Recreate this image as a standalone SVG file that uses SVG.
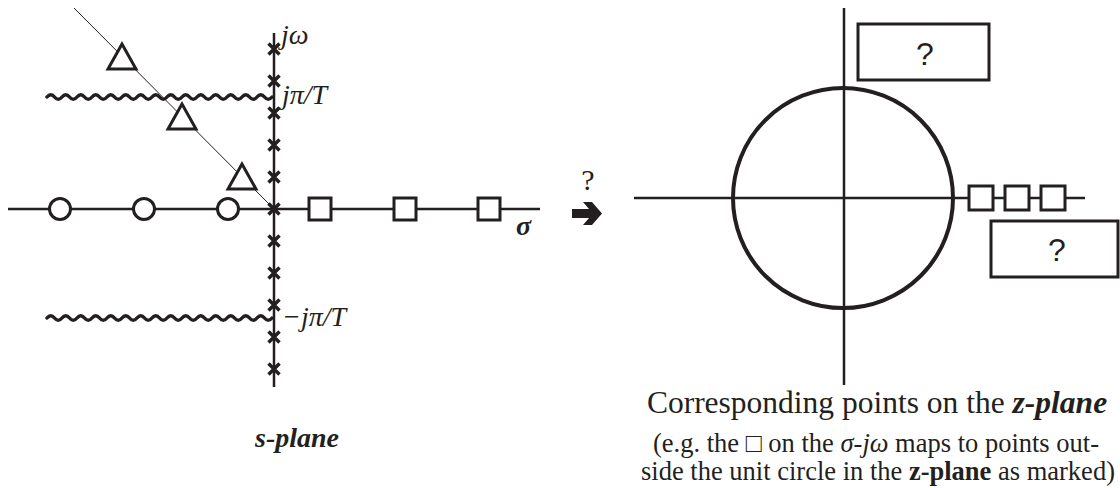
<svg xmlns="http://www.w3.org/2000/svg" width="1120" height="488" viewBox="0 0 1120 488">
<style>
.ax{stroke:#231f20;stroke-width:2.5;fill:none}
.thin{stroke:#231f20;stroke-width:1;fill:none}
.mk{stroke:#231f20;stroke-width:3;fill:#fff}
.xm{stroke:#231f20;stroke-width:3.5;fill:none}
.wave{stroke:#231f20;stroke-width:3.5;fill:none;stroke-linecap:round}
.lab{font-family:"Liberation Serif","Times New Roman",serif;font-style:italic;font-size:28px;fill:#231f20}
.q{font-family:"Liberation Sans",Arial,sans-serif;font-size:32px;fill:#231f20;text-anchor:middle}
</style>
<rect width="1120" height="488" fill="#fff"/>
<g id="connectors">
  <line class="ax" x1="8" y1="209" x2="540" y2="209"/>
  <line class="ax" x1="274" y1="33" x2="274" y2="387"/>
  <line class="thin" x1="74" y1="8" x2="274" y2="209"/>
  <path class="wave" d="M47,97 q3.75,-4.5 7.5,0 t7.5,0 t7.5,0 t7.5,0 t7.5,0 t7.5,0 t7.5,0 t7.5,0 t7.5,0 t7.5,0 t7.5,0 t7.5,0 t7.5,0 t7.5,0 t7.5,0 t7.5,0 t7.5,0 t7.5,0 t7.5,0 t7.5,0 t7.5,0 t7.5,0 t7.5,0 t7.5,0 t7.5,0 t7.5,0 t7.5,0 t7.5,0 t7.5,0 t7.5,0"/>
  <path class="wave" d="M47,318 q3.75,-4.5 7.5,0 t7.5,0 t7.5,0 t7.5,0 t7.5,0 t7.5,0 t7.5,0 t7.5,0 t7.5,0 t7.5,0 t7.5,0 t7.5,0 t7.5,0 t7.5,0 t7.5,0 t7.5,0 t7.5,0 t7.5,0 t7.5,0 t7.5,0 t7.5,0 t7.5,0 t7.5,0 t7.5,0 t7.5,0 t7.5,0 t7.5,0 t7.5,0 t7.5,0 t7.5,0"/>
  <line class="ax" x1="634" y1="198" x2="1085" y2="198"/>
  <line class="ax" x1="844" y1="8" x2="844" y2="385"/>
  <path id="map-arrow" d="M572,209 L589,209 L583,202 L592,202 L602,213.5 L592,225 L583,225 L589,218 L572,218 Z" fill="#231f20"/>
</g>
<g id="s-plane-markers">
  <g id="circles">
    <circle class="mk" cx="60" cy="209" r="10.5"/>
    <circle class="mk" cx="144" cy="209" r="10.5"/>
    <circle class="mk" cx="228" cy="209" r="10.5"/>
  </g>
  <g id="squares">
    <rect class="mk" x="309" y="198" width="22" height="22"/>
    <rect class="mk" x="394" y="198" width="22" height="22"/>
    <rect class="mk" x="478" y="198" width="22" height="22"/>
  </g>
  <g id="triangles">
    <polygon class="mk" points="122,44 108,69 136,69"/>
    <polygon class="mk" points="182,104 168,129 196,129"/>
    <polygon class="mk" points="242,164 228,189 256,189"/>
  </g>
  <g id="crosses">
    <path class="xm" d="M268.5,43.5 l11,11 m0,-11 l-11,11 M268.5,75.5 l11,11 m0,-11 l-11,11 M268.5,107.5 l11,11 m0,-11 l-11,11 M268.5,139.5 l11,11 m0,-11 l-11,11 M268.5,171.5 l11,11 m0,-11 l-11,11 M268.5,203.5 l11,11 m0,-11 l-11,11 M268.5,235.5 l11,11 m0,-11 l-11,11 M268.5,267.5 l11,11 m0,-11 l-11,11 M268.5,299.5 l11,11 m0,-11 l-11,11 M268.5,331.5 l11,11 m0,-11 l-11,11 M268.5,363.5 l11,11 m0,-11 l-11,11"/>
  </g>
</g>
<g id="s-labels">
  <text class="lab" x="281" y="44">jω</text>
  <text class="lab" x="282" y="104">jπ/T</text>
  <text class="lab" x="282" y="326">−jπ/T</text>
  <text class="lab" x="516" y="235" font-weight="bold" font-size="30">σ</text>
  <text class="lab" x="297" y="447" font-weight="bold" font-size="32" text-anchor="middle">s-plane</text>
  <text x="588" y="190" font-family="Liberation Serif, serif" font-size="30" text-anchor="middle" fill="#231f20">?</text>
</g>
<g id="z-plane">
  <circle cx="843" cy="198" r="110" fill="none" stroke="#231f20" stroke-width="4"/>
  <g id="z-squares">
    <rect class="mk" x="969" y="186" width="24" height="24"/>
    <rect class="mk" x="1005" y="186" width="24" height="24"/>
    <rect class="mk" x="1041" y="186" width="24" height="24"/>
  </g>
  <g id="box-top">
    <rect x="858" y="24" width="131" height="56" fill="#fff" stroke="#231f20" stroke-width="3"/>
    <text class="q" x="925" y="65">?</text>
  </g>
  <g id="box-bottom">
    <rect x="991" y="221" width="127" height="56" fill="#fff" stroke="#231f20" stroke-width="3"/>
    <text class="q" x="1057" y="261">?</text>
  </g>
</g>
<g id="caption" font-family="Liberation Serif, serif" fill="#231f20" text-anchor="middle">
  <text x="877" y="413" font-size="31.5">Corresponding points on the <tspan font-style="italic" font-weight="bold">z-plane</tspan></text>
  <text x="876" y="452" font-size="26.5">(e.g. the □ on the <tspan font-style="italic">σ-jω</tspan> maps to points out-</text>
  <text x="878" y="480" font-size="26.5">side the unit circle in the <tspan font-weight="bold">z-plane</tspan> as marked)</text>
</g>
</svg>
